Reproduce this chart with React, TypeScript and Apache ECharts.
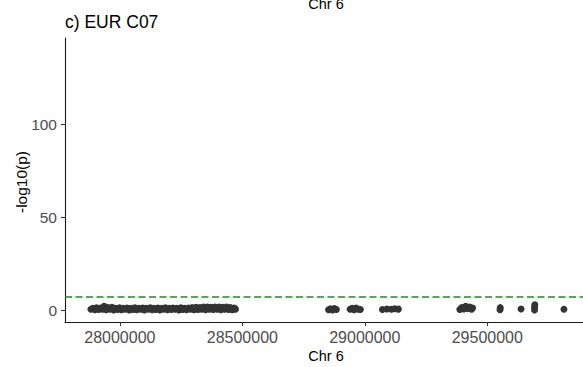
import { useEffect, useRef } from "react";
import * as echarts from "echarts";

// Axis ticks
const xTicks = [28000000, 28500000, 29000000, 29500000];
const yTicks = [0, 50, 100];

// Genome-wide significance threshold, -log10(5e-8)
const gwsThreshold = 7.3;

// SNPs: [position on chr 6 (bp), -log10(p)]
const mhcBlock: [number, number][] = [
  [27882000, 0.6], [27890000, 1.2], [27898000, 0.4], [27905000, 1.4], [27913000, 0.5],
  [27921000, 1.3], [27929000, 0.7], [27936000, 2.2], [27944000, 0.4], [27952000, 1.5],
  [27960000, 0.6], [27968000, 1.7], [27975000, 0.3], [27983000, 1.2], [27991000, 0.5],
  [27999000, 1.4], [28007000, 0.4], [28015000, 1.1], [28022000, 0.6], [28030000, 1.3],
  [28038000, 0.3], [28046000, 1.2], [28054000, 0.5], [28061000, 1.4], [28069000, 0.4],
  [28077000, 1.1], [28085000, 0.7], [28093000, 1.3], [28100000, 0.3], [28108000, 1.2],
  [28116000, 0.6], [28124000, 1.4], [28132000, 0.4], [28139000, 1.1], [28147000, 0.5],
  [28155000, 1.3], [28163000, 0.3], [28171000, 1.2], [28178000, 0.6], [28186000, 1.4],
  [28194000, 0.4], [28202000, 1.1], [28210000, 0.5], [28217000, 1.3], [28225000, 0.7],
  [28233000, 1.2], [28241000, 0.3], [28249000, 1.4], [28256000, 0.5], [28264000, 1.2],
  [28272000, 0.4], [28280000, 1.3], [28288000, 0.6], [28295000, 1.5], [28303000, 0.4],
  [28311000, 1.7], [28319000, 0.5], [28327000, 1.6], [28334000, 0.7], [28342000, 1.8],
  [28350000, 0.4], [28358000, 1.9], [28366000, 0.6], [28373000, 1.7], [28381000, 0.5],
  [28389000, 1.8], [28397000, 0.7], [28405000, 1.9], [28412000, 0.4], [28420000, 1.7],
  [28428000, 0.6], [28436000, 1.8], [28444000, 0.5], [28451000, 1.6], [28459000, 0.4],
  [28467000, 1.3], [28472000, 0.7],
];

const distalSnps: [number, number][] = [
  [28852000, 0.4], [28860000, 0.9], [28868000, 0.3], [28876000, 1.0], [28884000, 0.5],
  [28940000, 0.6], [28948000, 1.1], [28956000, 0.4], [28964000, 1.3], [28972000, 0.7], [28982000, 0.5],
  [29072000, 0.5], [29090000, 0.8], [29108000, 0.6], [29122000, 0.9], [29137000, 0.7],
  [29388000, 0.5], [29396000, 1.6], [29404000, 0.8], [29412000, 2.2], [29420000, 1.0],
  [29428000, 1.9], [29436000, 0.6], [29440000, 1.3],
  [29552000, 0.4], [29553000, 1.5],
  [29638000, 0.8],
  [29693000, 0.3], [29693000, 1.8], [29694000, 3.0],
  [29813000, 0.6],
];

const FONT = "'Liberation Sans', Arial, Helvetica, sans-serif";

export default function App() {
  const ref = useRef<HTMLDivElement>(null);

  useEffect(() => {
    if (!ref.current) return;
    const chart = echarts.init(ref.current, null, { renderer: "svg" });
    chart.setOption({
      animation: false,
      backgroundColor: "#ffffff",
      textStyle: { fontFamily: FONT },
      grid: { left: 65, right: 0, top: 38, bottom: 45 },
      xAxis: {
        type: "value",
        min: 27776000,
        max: 29890800,
        splitLine: { show: false },
        axisLine: { show: true, onZero: false, lineStyle: { color: "#1a1a1a", width: 1.1 } },
        axisTick: { show: true, length: 4, customValues: xTicks, lineStyle: { color: "#333333", width: 1.1 } },
        axisLabel: {
          customValues: xTicks,
          margin: 7,
          color: "#4d4d4d",
          fontSize: 16,
          fontFamily: FONT,
          formatter: (v: number) => String(v),
        },
      },
      yAxis: {
        type: "value",
        min: -6.2,
        max: 146.3,
        splitLine: { show: false },
        axisLine: { show: true, onZero: false, lineStyle: { color: "#1a1a1a", width: 1.1 } },
        axisTick: { show: true, length: 4, customValues: yTicks, lineStyle: { color: "#333333", width: 1.1 } },
        axisLabel: {
          customValues: yTicks,
          margin: 8,
          color: "#4d4d4d",
          fontSize: 15.5,
          fontFamily: FONT,
        },
      },
      series: [
        {
          type: "scatter",
          data: [...mhcBlock, ...distalSnps],
          symbolSize: 7,
          itemStyle: { color: "#333333", opacity: 1 },
          markLine: {
            silent: true,
            symbol: "none",
            label: { show: false },
            lineStyle: { type: [7, 3.5], color: "#228b22", width: 1.5 },
            data: [{ yAxis: gwsThreshold }],
          },
        },
      ],
      graphic: [
        {
          type: "text",
          x: 326,
          y: 4,
          style: { text: "Chr 6", font: `14.5px ${FONT}`, fill: "#000", align: "center", verticalAlign: "middle" },
        },
        {
          type: "text",
          x: 65,
          y: 22,
          style: { text: "c) EUR C07", font: `17.5px ${FONT}`, fill: "#000", align: "left", verticalAlign: "middle" },
        },
        {
          type: "text",
          x: 326,
          y: 356,
          style: { text: "Chr 6", font: `14.5px ${FONT}`, fill: "#000", align: "center", verticalAlign: "middle" },
        },
        {
          type: "text",
          x: 21,
          y: 182,
          rotation: Math.PI / 2,
          style: { text: "-log10(p)", font: `15.5px ${FONT}`, fill: "#000", align: "center", verticalAlign: "middle" },
        },
      ],
    });
    return () => chart.dispose();
  }, []);

  return <div ref={ref} style={{ position: "absolute", left: 0, top: 0, width: 583, height: 367 }} />;
}
